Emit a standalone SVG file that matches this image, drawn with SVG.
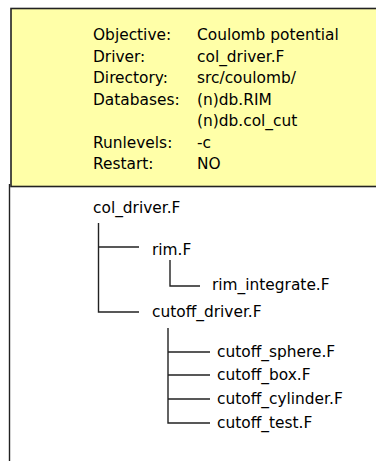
<svg xmlns="http://www.w3.org/2000/svg" width="376" height="461" viewBox="0 0 376 461">
<style>
text{font-family:"DejaVu Sans",sans-serif;font-size:15.4px;fill:#000}
.c{stroke:#222;stroke-width:1.4;fill:none}
</style>
<rect x="0" y="0" width="376" height="461" fill="#fff"/>
<g id="info">
<rect x="11" y="8.5" width="370" height="178" fill="#ffffa8" stroke="#222" stroke-width="1.6"/>
<text x="93" y="40">Objective:</text><text x="197" y="40">Coulomb potential</text>
<text x="93" y="62">Driver:</text><text x="197" y="62">col_driver.F</text>
<text x="93" y="83">Directory:</text><text x="197" y="83">src/coulomb/</text>
<text x="93" y="105">Databases:</text><text x="197" y="105">(n)db.RIM</text>
<text x="197" y="126">(n)db.col_cut</text>
<text x="93" y="148">Runlevels:</text><text x="197" y="148">-c</text>
<text x="93" y="169">Restart:</text><text x="197" y="169">NO</text>
</g>
<g id="connectors">
<path class="c" d="M9.5 184V461"/>
<path class="c" d="M98.5 223V312H139M98.5 247H139"/>
<path class="c" d="M170 260V286H200"/>
<path class="c" d="M168 328V423H210M168 352H210M168 375H210M168 399H210"/>
</g>
<g id="n-col_driver"><text x="93" y="213">col_driver.F</text></g>
<g id="n-rim"><text x="152" y="255">rim.F</text></g>
<g id="n-rim_integrate"><text x="212" y="290">rim_integrate.F</text></g>
<g id="n-cutoff_driver"><text x="152" y="317">cutoff_driver.F</text></g>
<g id="n-cutoff_sphere"><text x="217" y="357">cutoff_sphere.F</text></g>
<g id="n-cutoff_box"><text x="217" y="380">cutoff_box.F</text></g>
<g id="n-cutoff_cylinder"><text x="217" y="404">cutoff_cylinder.F</text></g>
<g id="n-cutoff_test"><text x="217" y="428">cutoff_test.F</text></g>
</svg>
